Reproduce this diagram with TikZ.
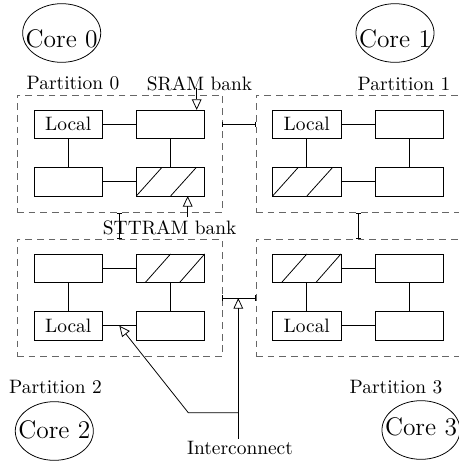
\documentclass[tikz,border=0pt]{standalone}
\usetikzlibrary{arrows.meta,shapes.geometric,calc}
\begin{document}
\begin{tikzpicture}[x=0.515pt,y=-0.515pt,
  mem/.style={draw, rectangle, minimum width=35.2pt, minimum height=14.7pt, inner sep=0pt, outer sep=0pt},
  part/.style={draw=black!60, dash pattern=on 3.5pt off 2.5pt, rectangle, minimum width=105.6pt, minimum height=60.6pt, inner sep=0pt, outer sep=0pt},
  lbl/.style={inner sep=0pt},
  coreell/.style={draw, ellipse, minimum width=40.2pt, minimum height=30.2pt, inner sep=0pt},
  coretxt/.style={inner sep=0pt, font=\fontsize{13.1}{16}\selectfont},
  bus/.style={{Bar[width=2.6pt]}-{Bar[width=2.6pt]}},
  opena/.style={-{Triangle[open,length=5.5pt,width=5pt]}},
  hatch/.style={draw}
]
\useasboundingbox (0,0) rectangle (459,461);

% partitions
\node[part] (P0) at (119.5,153.9) {};
\node[part] (P1) at (358.5,153.9) {};
\node[part] (P2) at (119.5,298) {};
\node[part] (P3) at (358.5,298) {};

% memory banks
\node[mem] (p0a) at (68.2,124.2) {Local};
\node[mem] (p0b) at (170.5,124.2) {};
\node[mem] (p0c) at (68.2,181.7) {};
\node[mem] (p0d) at (170.5,181.7) {};

\node[mem] (p1a) at (306.8,124.2) {Local};
\node[mem] (p1b) at (409.2,124.2) {};
\node[mem] (p1c) at (306.8,181.7) {};
\node[mem] (p1d) at (409.2,181.7) {};

\node[mem] (p2a) at (68.2,268.2) {};
\node[mem] (p2b) at (170.5,268.2) {};
\node[mem] (p2c) at (68.2,325.7) {Local};
\node[mem] (p2d) at (170.5,325.7) {};

\node[mem] (p3a) at (306.8,268.2) {};
\node[mem] (p3b) at (409.2,268.2) {};
\node[mem] (p3c) at (306.8,325.7) {Local};
\node[mem] (p3d) at (409.2,325.7) {};

% hatching (STTRAM banks)
\foreach \b in {p0d,p1c}{
  \draw[hatch] (\b.south west) -- ($(\b.north west)+(25.6,0)$);
  \draw[hatch] ($(\b.south west)+(34.3,0)$) -- ($(\b.north west)+(60,0)$);
}
\foreach \b in {p2b,p3a}{
  \draw[hatch] ($(\b.south west)+(9,0)$) -- ($(\b.north west)+(34.3,0)$);
  \draw[hatch] ($(\b.south west)+(43.3,0)$) -- (\b.north east);
}

% links inside partitions
\foreach \p in {p0,p1,p2,p3}{
  \draw (\p a.east) -- (\p b.west);
  \draw (\p a.south) -- (\p c.north);
  \draw (\p b.south) -- (\p d.north);
  \draw (\p c.east) -- (\p d.west);
}

% links between partitions
\draw[bus] (p0a -| P0.east) -- (p0a -| P1.west);
\draw[bus] (P0.south) -- (P2.north);
\draw[bus] (P1.south) -- (P3.north);
\draw[bus] (P2.east) -- (P3.west);

% labels
\node[lbl] (pl0) at (73,83.5) {Partition 0};
\node[lbl] (pl1) at (404,83.5) {Partition 1};
\node[lbl] (pl2) at (55.5,387) {Partition 2};
\node[lbl] (pl3) at (396,387) {Partition 3};
\node[lbl] (sram) at (199.5,83.5) {SRAM bank};
\node[lbl] (sttram) at (169.7,227.5) {STTRAM bank};
\node[lbl, inner sep=1pt] (ic) at (240,448) {Interconnect};

% annotation arrows
\coordinate (sramtop) at (196.7,88);
\draw[opena] (sramtop) -- (sramtop |- p0b.north);
\coordinate (sttbot) at (187.7,217);
\draw[opena] (sttbot) -- (sttbot |- p0d.south);

\coordinate (icjoin) at (238.3,412.7);
\coordinate (icbend) at (188.3,412.7);
\draw[opena] (ic.north -| icjoin) -- (icjoin |- P2.east);
\draw[opena] (icjoin) -- (icbend) -- ($(p2c.east)!0.5!(p2d.west)$);

% cores
\node[coreell] (c0) at (61.7,33) {};
\node[coretxt] (c0t) at (61.7,39) {Core 0};
\node[coreell] (c1) at (395,33) {};
\node[coretxt] (c1t) at (395,39) {Core 1};
\node[coreell] (c2) at (54.3,431) {};
\node[coretxt] (c2t) at (54.3,430) {Core 2};
\node[coreell] (c3) at (421,430) {};
\node[coretxt] (c3t) at (421,427) {Core 3};
\end{tikzpicture}
\end{document}
